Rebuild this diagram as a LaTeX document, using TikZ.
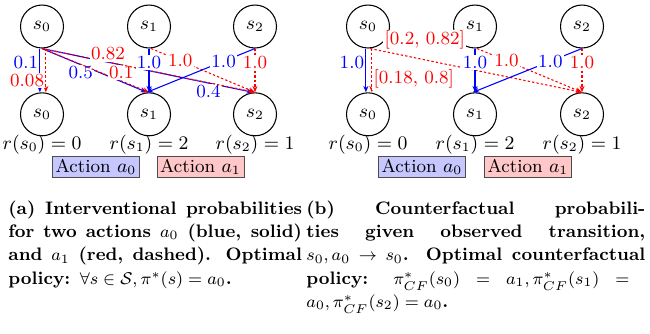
\documentclass[tikz,border=0pt]{standalone}
\usetikzlibrary{arrows.meta,positioning}

\tikzset{
  state/.style={circle, draw, line width=0.5pt, minimum size=20.2pt, inner sep=0pt},
  acta/.style={blue, line width=0.5pt, -{Stealth[length=3pt, width=2.4pt]}},
  actb/.style={red, line width=0.5pt, dash pattern=on 1.1pt off 1pt, -{Stealth[length=3pt, width=2.4pt]}},
  prob/.style={fill=white, inner sep=0.6pt},
  actbox/.style={draw=black!70, line width=0.4pt, inner xsep=1.5pt, inner ysep=1.2pt},
  capt/.style={anchor=north west, inner sep=0pt, align=justify, font=\fontsize{8.5}{11}\selectfont\bfseries},
}

\begin{document}
\begin{tikzpicture}[x=0.47pt, y=-0.47pt, font=\fontsize{8.7}{11}\selectfont]
    \useasboundingbox (0,0) rectangle (650,333);
    % --- parameters ---
    \def\dx{326}      % offset of panel (b)
    \def\ytop{26.5}   % row of current states
    \def\ybot{114.3}  % row of next states

    % --- (a) interventional probabilities ---
    \node[state] (it0) at (42,\ytop) {$s_0$};
    \node[state] (it1) at (149,\ytop) {$s_1$};
    \node[state] (it2) at (255,\ytop) {$s_2$};
    \node[state] (ib0) at (42,\ybot) {$s_0$};
    \node[state] (ib1) at (149,\ybot) {$s_1$};
    \node[state] (ib2) at (255,\ybot) {$s_2$};

    % action a0 (blue, solid)
    \draw[acta] ([xshift=-1pt]it0.south) -- node[prob, left, pos=0.32] {0.1} ([xshift=-1pt]ib0.north);
    \draw[acta] (it0.south) -- node[prob, below, pos=0.37] {0.5} ([xshift=-1pt]ib1.north);
    \draw[acta] (it0.south) -- node[prob, below, pos=0.79] {0.4} ([xshift=-1pt]ib2.north);
    % action a1 (red, dashed)
    \draw[actb] ([xshift=1.8pt]it0.south) -- node[prob, left, pos=0.73] {0.08} ([xshift=1.8pt]ib0.north);
    \draw[actb] (it0.south) -- node[prob, above, pos=0.74] {0.1} (ib1.north);
    \draw[actb] (it0.south) -- node[prob, above, pos=0.31] {0.82} (ib2.north);
    % s1 and s2
    \draw[acta] (it1.south) -- node[prob, pos=0.32] {1.0} (ib1.north);
    \draw[actb] ([xshift=1pt]it1.south) -- node[prob, pos=0.28] {1.0} (ib2.north);
    \draw[acta] (it2.south) -- node[prob, pos=0.29] {1.0} ([xshift=-1pt]ib1.north);
    \draw[actb] (it2.south) -- node[prob, pos=0.32] {1.0} (ib2.north);

    % rewards and legend
    \node (ir0) at (42,145) {$r(s_0) = 0$};
    \node (ir1) at (149,145) {$r(s_1) = 2$};
    \node (ir2) at (255,145) {$r(s_2) = 1$};
    \node[actbox, fill=blue!22] (iacta) at (96,167) {Action $a_0$};
    \node[actbox, fill=red!22] (iactb) at (200.5,167) {Action $a_1$};

    % --- (b) counterfactual probabilities ---
    \node[state] (ct0) at (\dx+42,\ytop) {$s_0$};
    \node[state] (ct1) at (\dx+149,\ytop) {$s_1$};
    \node[state] (ct2) at (\dx+256,\ytop) {$s_2$};
    \node[state] (cb0) at (\dx+42,\ybot) {$s_0$};
    \node[state] (cb1) at (\dx+149,\ybot) {$s_1$};
    \node[state] (cb2) at (\dx+256,\ybot) {$s_2$};

    \draw[acta] ([xshift=-1pt]ct0.south) -- node[prob, left, pos=0.32] {1.0} ([xshift=-1pt]cb0.north);
    \draw[actb] ([xshift=1.8pt]ct0.south) -- node[prob, right, pos=0.7] {[0.18, 0.8]} ([xshift=1.8pt]cb0.north);
    \draw[actb] ([xshift=1pt]ct0.south) -- node[prob, above right, pos=0.06] {[0.2, 0.82]} (cb2.north);
    \draw[acta] (ct1.south) -- node[prob, pos=0.32] {1.0} (cb1.north);
    \draw[actb] ([xshift=1pt]ct1.south) -- node[prob, pos=0.28] {1.0} (cb2.north);
    \draw[acta] (ct2.south) -- node[prob, pos=0.29] {1.0} ([xshift=-1pt]cb1.north);
    \draw[actb] (ct2.south) -- node[prob, pos=0.32] {1.0} (cb2.north);

    \node (cr0) at (\dx+42,145) {$r(s_0) = 0$};
    \node (cr1) at (\dx+149,145) {$r(s_1) = 2$};
    \node (cr2) at (\dx+256,145) {$r(s_2) = 1$};
    \node[actbox, fill=blue!22] (cacta) at (\dx+96,167) {Action $a_0$};
    \node[actbox, fill=red!22] (cactb) at (\dx+202,167) {Action $a_1$};

    % --- captions ---
    \node[capt, text width=138pt] (capa) at (8,200) {\hyphenpenalty=10000
      (a) Interventional probabilities\linebreak
      for two actions $a_0$ (blue, solid)\linebreak
      and $a_1$ (red, dashed). Optimal\linebreak
      policy: $\forall s \in \mathcal{S}, \pi^*(s) = a_0$.};
    \node[capt, text width=159.3pt] (capb) at (306,200) {(b) Counterfactual probabili-\linebreak
      ties given observed transition,\linebreak
      $s_0, a_0 \rightarrow s_0$. Optimal counterfactual\linebreak
      policy: $\pi^*_{CF}(s_0) = a_1, \pi^*_{CF}(s_1) = {}$\linebreak
      $a_0, \pi^*_{CF}(s_2) = a_0$.};
\end{tikzpicture}
\end{document}
